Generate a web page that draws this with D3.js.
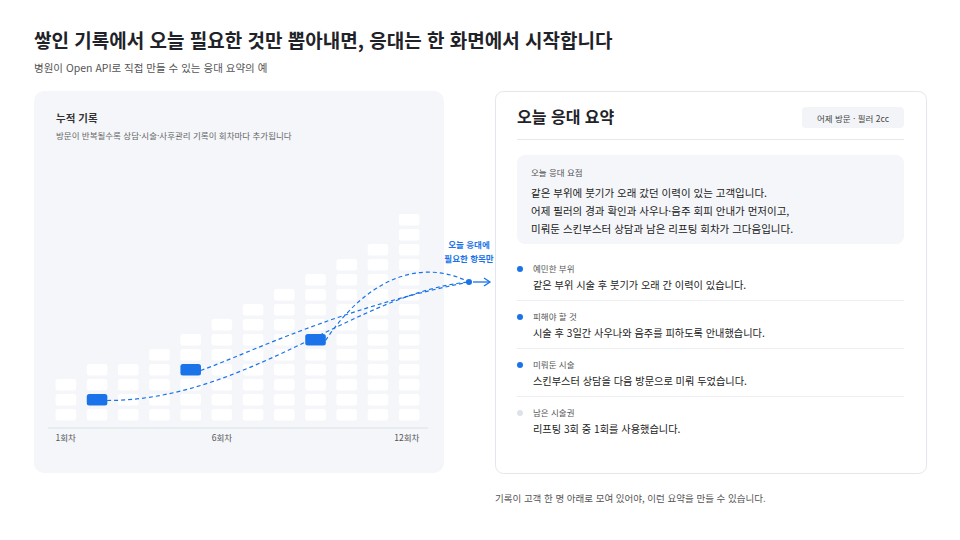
<!DOCTYPE html>
<html lang="ko">
<head>
<meta charset="UTF-8" />
<script src="https://cdnjs.cloudflare.com/ajax/libs/d3/7.8.2/d3.min.js"></script>
<style>
  body { margin: 0; background: #fff; font-family: "Noto Sans CJK KR", "Noto Sans", sans-serif; }
  svg { display: block; }
</style>
</head>
<body>
<svg id="chart" width="960" height="540"></svg>
<script>
// data
const visits = ["1회차","2회차","3회차","4회차","5회차","6회차","7회차","8회차","9회차","10회차","11회차","12회차"];
const recordCounts = [3, 4, 4, 5, 6, 7, 8, 9, 10, 11, 12, 14];
const tickLabels = ["1회차", "6회차", "12회차"];
const picked = [ {visit: "2회차", row: 1}, {visit: "5회차", row: 3}, {visit: "9회차", row: 5} ];
const summaryLines = [
  "같은 부위에 붓기가 오래 갔던 이력이 있는 고객입니다.",
  "어제 필러의 경과 확인과 사우나·음주 회피 안내가 먼저이고,",
  "미뤄둔 스킨부스터 상담과 남은 리프팅 회차가 그다음입니다."
];
const itemLabels = ["예민한 부위", "피해야 할 것", "미뤄둔 시술", "남은 시술권"];
const itemTexts = [
  "같은 부위 시술 후 붓기가 오래 간 이력이 있습니다.",
  "시술 후 3일간 사우나와 음주를 피하도록 안내했습니다.",
  "스킨부스터 상담을 다음 방문으로 미뤄 두었습니다.",
  "리프팅 3회 중 1회를 사용했습니다."
];
const itemActive = [true, true, true, false];

const blue = "#1a73e8";
const svg = d3.select("#chart");

// headings
svg.append("text").attr("x", 34).attr("y", 48).attr("font-size", 19).attr("font-weight", 700)
  .attr("fill", "#1f2329").text("쌓인 기록에서 오늘 필요한 것만 뽑아내면, 응대는 한 화면에서 시작합니다");
svg.append("text").attr("x", 34).attr("y", 72).attr("font-size", 10.5).attr("fill", "#555")
  .text("병원이 Open API로 직접 만들 수 있는 응대 요약의 예");

// left panel
svg.append("rect").attr("x", 34).attr("y", 91).attr("width", 410).attr("height", 382)
  .attr("rx", 10).attr("fill", "#f4f6f9");
svg.append("text").attr("x", 56).attr("y", 122).attr("font-size", 10.5).attr("font-weight", 700)
  .attr("fill", "#333").text("누적 기록");
svg.append("text").attr("x", 56).attr("y", 139).attr("font-size", 8.5).attr("fill", "#666")
  .text("방문이 반복될수록 상담·시술·사후관리 기록이 회차마다 추가됩니다");

const x = d3.scaleBand().domain(visits).range([54, 421]).paddingInner(0.34).paddingOuter(0.05);
const y = d3.scaleLinear().domain([0, 14]).range([422, 212]);
const rowH = y(0) - y(1);

const cells = [];
visits.forEach((v, i) => d3.range(recordCounts[i]).forEach(r => cells.push({v, r})));
svg.append("g").selectAll("rect").data(cells).join("rect")
  .attr("x", d => x(d.v)).attr("y", d => y(d.r + 1) + 2)
  .attr("width", x.bandwidth()).attr("height", rowH - 3.5).attr("rx", 2.5)
  .attr("fill", "#ffffff");

svg.append("line").attr("x1", 48).attr("x2", 428).attr("y1", 428).attr("y2", 428)
  .attr("stroke", "#dde1e6");
const tickIdx = tickLabels.map(t => visits.indexOf(t));
svg.append("g").selectAll("text").data(tickIdx).join("text")
  .attr("x", (d, i) => i === 0 ? x(visits[d]) : i === 2 ? x(visits[d]) + x.bandwidth() : x(visits[d]) + x.bandwidth() / 2)
  .attr("text-anchor", (d, i) => ["start", "middle", "end"][i])
  .attr("y", 441).attr("font-size", 8.5).attr("fill", "#555").text(d => visits[d]);

// target point
const tx = 469, ty = 282;
const pc = picked.map(p => ({cx: x(p.visit) + x.bandwidth() / 2, cy: y(p.row + 0.5) + 1}));
const paths = [
  `M${pc[0].cx + 10},${pc[0].cy} C${pc[0].cx + 150},${pc[0].cy} ${tx - 110},${ty + 10} ${tx},${ty}`,
  `M${pc[1].cx + 10},${pc[1].cy} C${pc[1].cx + 60},${pc[1].cy - 18} ${tx - 130},${ty + 26} ${tx},${ty}`,
  `M${pc[2].cx + 10},${pc[2].cy} C${pc[2].cx + 50},${pc[2].cy - 60} ${tx - 50},${ty - 25} ${tx},${ty}`
];
svg.append("g").selectAll("path").data(paths).join("path").attr("d", d => d)
  .attr("fill", "none").attr("stroke", blue).attr("stroke-width", 1.2).attr("stroke-dasharray", "4,3");
svg.append("g").selectAll("rect").data(picked).join("rect")
  .attr("x", d => x(d.visit)).attr("y", d => y(d.row + 1) + 2)
  .attr("width", x.bandwidth()).attr("height", rowH - 3.5).attr("rx", 2.5).attr("fill", blue);
svg.append("circle").attr("cx", tx).attr("cy", ty).attr("r", 3).attr("fill", blue);
svg.append("line").attr("x1", tx + 4).attr("x2", 489).attr("y1", ty).attr("y2", ty)
  .attr("stroke", blue).attr("stroke-width", 1.3);
svg.append("path").attr("d", `M484,${ty - 4} L490,${ty} L484,${ty + 4}`).attr("fill", "none")
  .attr("stroke", blue).attr("stroke-width", 1.3);
svg.append("text").attr("x", 469).attr("y", 248).attr("text-anchor", "middle").attr("font-size", 8.5)
  .attr("font-weight", 700).attr("fill", blue).text("오늘 응대에");
svg.append("text").attr("x", 469).attr("y", 262).attr("text-anchor", "middle").attr("font-size", 8.5)
  .attr("font-weight", 700).attr("fill", blue).text("필요한 항목만");

// right panel
svg.append("rect").attr("x", 495.5).attr("y", 91.5).attr("width", 431).attr("height", 382)
  .attr("rx", 8).attr("fill", "#fff").attr("stroke", "#e3e6ea");
svg.append("text").attr("x", 517).attr("y", 123).attr("font-size", 16).attr("font-weight", 700)
  .attr("fill", "#1f2329").text("오늘 응대 요약");
svg.append("rect").attr("x", 802).attr("y", 107).attr("width", 102).attr("height", 21).attr("rx", 4)
  .attr("fill", "#f2f4f7");
svg.append("text").attr("x", 853).attr("y", 121.5).attr("text-anchor", "middle").attr("font-size", 8.5)
  .attr("fill", "#444").text("어제 방문 · 필러 2cc");
svg.append("line").attr("x1", 517).attr("x2", 904).attr("y1", 139.5).attr("y2", 139.5).attr("stroke", "#e6e8eb");

svg.append("rect").attr("x", 517).attr("y", 155).attr("width", 387).attr("height", 89).attr("rx", 8)
  .attr("fill", "#f4f6f9");
svg.append("text").attr("x", 531).attr("y", 176).attr("font-size", 8.5).attr("fill", "#555").text("오늘 응대 요점");
svg.append("g").selectAll("text").data(summaryLines).join("text")
  .attr("x", 531).attr("y", (d, i) => 197 + i * 18).attr("font-size", 10.5).attr("font-weight", 400)
  .attr("fill", "#222").text(d => d);

const items = svg.append("g").selectAll("g").data(itemLabels).join("g")
  .attr("transform", (d, i) => `translate(0,${i * 48})`);
items.append("circle").attr("cx", 520).attr("cy", 269).attr("r", 3)
  .attr("fill", (d, i) => itemActive[i] ? blue : "#dfe3e8");
items.append("text").attr("x", 533).attr("y", 272).attr("font-size", 8.5).attr("fill", "#555").text(d => d);
items.append("text").attr("x", 533).attr("y", 289).attr("font-size", 10.2).attr("fill", "#222")
  .text((d, i) => itemTexts[i]);
items.filter((d, i) => i < 3).append("line").attr("x1", 517).attr("x2", 904)
  .attr("y1", 300.5).attr("y2", 300.5).attr("stroke", "#eceef1");

svg.append("text").attr("x", 495).attr("y", 502).attr("font-size", 9.5).attr("fill", "#555")
  .text("기록이 고객 한 명 아래로 모여 있어야, 이런 요약을 만들 수 있습니다.");
</script>
</body>
</html>
